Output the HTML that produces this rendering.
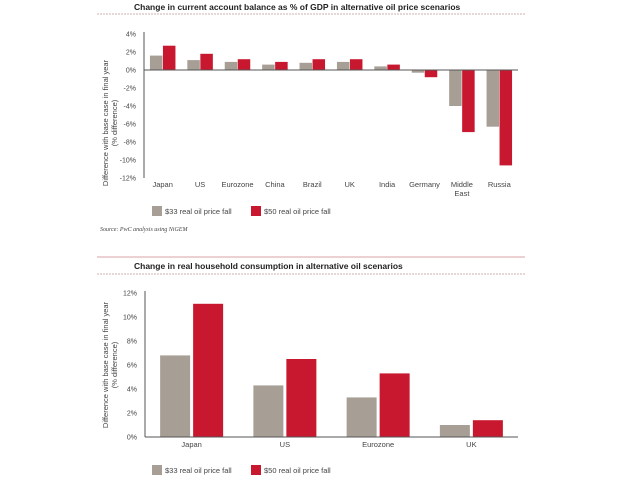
<!DOCTYPE html>
<html><head><meta charset="utf-8"><style>
body{margin:0;background:#fff;width:638px;height:479px;overflow:hidden;font-family:"Liberation Sans",sans-serif;}
svg{display:block}
</style></head><body>
<svg id="s" width="638" height="479" xmlns="http://www.w3.org/2000/svg">
<text x="134" y="10" font-size="8.5" font-weight="bold" fill="#222">Change in current account balance as % of GDP in alternative oil price scenarios</text>
<line x1="97" y1="14" x2="525" y2="14" stroke="#b99" stroke-width="0.8" stroke-dasharray="2,1"/>
<text transform="translate(108,123) rotate(-90)" text-anchor="middle" font-size="7.5" fill="#444"><tspan x="0" dy="0">Difference with base case in final year</tspan><tspan x="0" dy="9">(% difference)</tspan></text>
<text x="100" y="231" font-size="6" font-style="italic" font-family="Liberation Serif,serif" fill="#444">Source: PwC analysis using NiGEM</text>
<line x1="97" y1="257" x2="525" y2="257" stroke="#d9a0a5" stroke-width="1"/>
<text x="134" y="269" font-size="8.5" font-weight="bold" fill="#222">Change in real household consumption in alternative oil scenarios</text>
<line x1="97" y1="274" x2="525" y2="274" stroke="#b99" stroke-width="0.8" stroke-dasharray="2,1"/>
<text transform="translate(108,365) rotate(-90)" text-anchor="middle" font-size="7.5" fill="#444"><tspan x="0" dy="0">Difference with base case in final year</tspan><tspan x="0" dy="9">(% difference)</tspan></text>
<g id="c1"></g><g id="c2"></g>
</svg>
<script>
const cats1=["Japan","US","Eurozone","China","Brazil","UK","India","Germany","Middle East","Russia"];
const s33a=[1.6,1.1,0.9,0.6,0.8,0.9,0.4,-0.3,-4.0,-6.3];
const s50a=[2.7,1.8,1.2,0.9,1.2,1.2,0.6,-0.8,-6.9,-10.6];
const ticks1=[4,2,0,-2,-4,-6,-8,-10,-12];
const cats2=["Japan","US","Eurozone","UK"];
const s33b=[6.8,4.3,3.3,1.0];
const s50b=[11.1,6.5,5.3,1.4];
const ticks2=[12,10,8,6,4,2,0];
const NS="http://www.w3.org/2000/svg";
const GREY="#a79f96",RED="#c8182f";
function mk(p,t,a){const e=document.createElementNS(NS,t);for(const k in a)e.setAttribute(k,a[k]);p.appendChild(e);return e;}
function draw(gid,cats,sa,sb,ticks,o){
 const g=document.getElementById(gid);
 const y=v=>o.y0-v*o.ppu;
 const step=(o.x1-o.x0)/cats.length;
 ticks.forEach(t=>{const tx=mk(g,"text",{x:o.x0-8,y:y(t)+2.5,"text-anchor":"end","font-size":"7",fill:"#444"});tx.textContent=t+"%";
  
  });
 const ya=mk(g,"line",{x1:o.x0,y1:y(ticks[0])-2,x2:o.x0,y2:y(ticks[ticks.length-1]),stroke:"#555","stroke-width":1});
 
 
 cats.forEach((c,i)=>{
  const cx=o.x0+step*(i+0.5);
  [[sa[i],GREY,-1],[sb[i],RED,0]].forEach(([v,col,off],j)=>{
   const x=cx+off*o.bw+(j?o.gap/2:-o.gap/2);
   const r=mk(g,"rect",{x:x,y:Math.min(y(0),y(v)),width:o.bw,height:Math.abs(y(v)-y(0)),fill:col});
   
   
  });
  const parts=c.split(" ");
  const tx=mk(g,"text",{x:cx,y:o.ly,"text-anchor":"middle","font-size":"7.5",fill:"#444"});
  
  
  parts.forEach((p,k)=>{const ts=mk(tx,"tspan",{x:cx,dy:k?9:0});ts.textContent=p;});
 });
 const xa=mk(g,"line",{x1:o.x0,y1:y(0),x2:o.x1,y2:y(0),stroke:"#555","stroke-width":1});
 
 
 [[GREY,"$33 real oil price fall",152],[RED,"$50 real oil price fall",251]].forEach(([col,lab,lx],k)=>{
  const sq=mk(g,"rect",{x:lx,y:o.legy-5,width:10,height:10,fill:col});
  
  
  const t=mk(g,"text",{x:lx+13,y:o.legy+3,"font-size":"7.5",fill:"#444"});t.textContent=lab;
  
  
 });
}
draw("c1",cats1,s33a,s50a,ticks1,{x0:144,x1:518,y0:70,ppu:9,bw:12.5,gap:0.5,ly:187,legy:211});
draw("c2",cats2,s33b,s50b,ticks2,{x0:145,x1:518,y0:437,ppu:12,bw:30,gap:3,ly:447,legy:470});
</script>
</body></html>
